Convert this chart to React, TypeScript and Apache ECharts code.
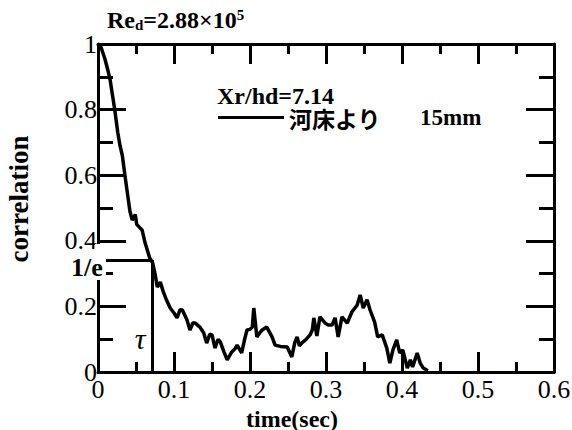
import React, { useEffect, useRef } from "react";
import * as echarts from "echarts";

const timeSec = [
  0, 0.004, 0.009, 0.013, 0.016, 0.018, 0.022, 0.026, 0.029, 0.032, 0.036, 0.039, 0.042, 0.045,
  0.049, 0.051, 0.055, 0.058, 0.062, 0.068, 0.072, 0.075, 0.078, 0.082, 0.086, 0.09, 0.095, 0.1,
  0.104, 0.108, 0.111, 0.117, 0.121, 0.125, 0.128, 0.134, 0.139, 0.143, 0.147, 0.15, 0.154, 0.158,
  0.161, 0.166, 0.17, 0.176, 0.18, 0.183, 0.189, 0.193, 0.196, 0.2, 0.203, 0.205, 0.209, 0.213,
  0.216, 0.222, 0.226, 0.229, 0.233, 0.24, 0.249, 0.255, 0.259, 0.262, 0.265, 0.268, 0.274, 0.279,
  0.282, 0.284, 0.288, 0.292, 0.299, 0.303, 0.308, 0.312, 0.316, 0.321, 0.328, 0.334, 0.341, 0.345,
  0.349, 0.354, 0.358, 0.364, 0.368, 0.374, 0.38, 0.384, 0.388, 0.393, 0.397, 0.401, 0.407, 0.411,
  0.414, 0.42, 0.424, 0.428, 0.434,
];
const correlation = [
  1.0, 0.99, 0.955, 0.92, 0.89, 0.86, 0.8, 0.73, 0.69, 0.66, 0.59, 0.54, 0.49, 0.463,
  0.48, 0.45, 0.44, 0.433, 0.393, 0.348, 0.332, 0.3, 0.259, 0.274, 0.244, 0.22, 0.195, 0.18,
  0.165, 0.19, 0.189, 0.159, 0.128, 0.15, 0.149, 0.137, 0.12, 0.088, 0.115, 0.113, 0.073, 0.1,
  0.091, 0.06, 0.037, 0.061, 0.07, 0.082, 0.058, 0.1, 0.128, 0.13, 0.137, 0.195, 0.107, 0.12,
  0.128, 0.137, 0.12, 0.107, 0.082, 0.078, 0.076, 0.046, 0.09, 0.107, 0.08, 0.088, 0.1, 0.113,
  0.128, 0.165, 0.11, 0.168, 0.149, 0.143, 0.143, 0.165, 0.107, 0.168, 0.149, 0.183, 0.204, 0.235,
  0.195, 0.22, 0.189, 0.152, 0.107, 0.113, 0.073, 0.027, 0.067, 0.098, 0.058, 0.067, 0.012, 0.037,
  0.015, 0.058, 0.027, 0.012, 0.004,
];
const xMajorTicks = [0, 0.1, 0.2, 0.3, 0.4, 0.5, 0.6];
const xMinorTicks = [0.05, 0.15, 0.25, 0.35, 0.45, 0.55];
const yMajorTicks = [0, 0.2, 0.4, 0.6, 0.8, 1];
const yMinorTicks = [0.1, 0.3, 0.5, 0.7, 0.9];
const xRange = { min: 0, max: 0.6, interval: 0.1 };
const yRange = { min: 0, max: 1, interval: 0.2 };
const invE = 0.341;
const tau = 0.0711;
const seriesName = "河床より";

const serif = "'Liberation Serif', 'Times New Roman', serif";

const GRID = { left: 98, top: 44, width: 456, height: 328 };

export default function App() {
  const ref = useRef<HTMLDivElement>(null);
  useEffect(() => {
    if (!ref.current) return;
    const chart = echarts.init(ref.current, undefined, { renderer: "svg" });
    const lineW = 3;
    const black = { color: "#000", width: lineW };
    const xAxisOf = (pos: "top" | "bottom") => ({
      type: "value" as const,
      position: pos,
      min: xRange.min,
      max: xRange.max,
      interval: xRange.interval,
      splitLine: { show: false },
      axisLabel: { show: false },
      axisLine: { show: true, onZero: false, lineStyle: black },
      axisTick: { show: true, inside: true, length: 20, lineStyle: black },
    });
    const yAxisOf = (pos: "left" | "right") => ({
      type: "value" as const,
      position: pos,
      min: yRange.min,
      max: yRange.max,
      interval: yRange.interval,
      splitLine: { show: false },
      axisLabel: { show: false },
      axisLine: { show: true, onZero: false, lineStyle: black },
      axisTick: { show: true, inside: true, length: 28, lineStyle: black },
    });
    // tick lengths in pixels, turned into data units through the grid size
    const ySpan = yRange.max - yRange.min;
    const xSpan = xRange.max - xRange.min;
    const xTickLen = (px: number) => (px / GRID.height) * ySpan;
    const yTickLen = (px: number) => (px / GRID.width) * xSpan;
    const tickSegs: any[] = [];
    const addX = (v: number, px: number) => {
      const d = xTickLen(px);
      tickSegs.push([{ coord: [v, yRange.min] }, { coord: [v, yRange.min + d] }]);
      tickSegs.push([{ coord: [v, yRange.max] }, { coord: [v, yRange.max - d] }]);
    };
    const addY = (v: number, px: number) => {
      const d = yTickLen(px);
      tickSegs.push([{ coord: [xRange.min, v] }, { coord: [xRange.min + d, v] }]);
      tickSegs.push([{ coord: [xRange.max, v] }, { coord: [xRange.max - d, v] }]);
    };
    xMajorTicks.forEach((v) => addX(v, 20));
    xMinorTicks.forEach((v) => addX(v, 10));
    yMajorTicks.forEach((v) => addY(v, 28));
    yMinorTicks.forEach((v) => addY(v, 15));

    chart.setOption({
      animation: false,
      backgroundColor: "#fff",
      grid: { ...GRID, containLabel: false, outerBoundsMode: "none" },
      legend: {
        show: true,
        left: 213,
        top: 101,
        itemWidth: 66,
        itemHeight: 3,
        icon: "rect",
        data: [seriesName],
        textStyle: { fontFamily: "'Noto Sans CJK JP', sans-serif", fontWeight: "bold", fontSize: 23, color: "#000" },
      },
      xAxis: [
        {
          ...xAxisOf("bottom"),
          name: "time(sec)",
          nameLocation: "middle",
          nameGap: 33,
          nameTextStyle: { fontFamily: serif, fontWeight: "bold", fontSize: 24, lineHeight: 22, color: "#000", padding: [0, 68, 0, 0] },
          axisLabel: { show: true, margin: 4, fontFamily: serif, fontSize: 26, color: "#000" },
        },
        xAxisOf("top"),
      ],
      yAxis: [
        {
          ...yAxisOf("left"),
          name: "correlation",
          nameLocation: "middle",
          nameGap: 66,
          nameTextStyle: { fontFamily: serif, fontWeight: "bold", fontSize: 27, color: "#000", padding: [0, 0, 0, 18] },
          axisLabel: { show: true, margin: 1, fontFamily: serif, fontSize: 26, color: "#000" },
        },
        yAxisOf("right"),
      ],
      series: [
        {
          name: seriesName,
          type: "line",
          xAxisIndex: 0,
          yAxisIndex: 0,
          clip: false,
          data: timeSec.map((t, i) => [t, correlation[i]]),
          symbol: "none",
          showSymbol: false,
          lineStyle: { color: "#000", width: 3.5 },
          itemStyle: { color: "#000" },
          markLine: {
            silent: true,
            symbol: "none",
            precision: 6,
            z: 10,
            label: { show: false },
            lineStyle: { color: "#000", width: 3, type: "solid" },
            emphasis: { disabled: true },
            data: [
              [{ coord: [0, invE] }, { coord: [tau, invE] }],
              [{ coord: [tau, invE] }, { coord: [tau, 0] }],
              ...tickSegs,
            ],
          },
        },
      ],
      graphic: [
        { type: "rect", z: 100, shape: { x: 95, y: 244, width: 11, height: 36 }, style: { fill: "#fff" } },
        {
          type: "text",
          z: 101,
          x: 71,
          y: 267,
          style: { text: "1/e", fontFamily: serif, fontWeight: "bold", fontSize: 26, fill: "#000", verticalAlign: "middle" },
        },
        {
          type: "text",
          z: 101,
          x: 140,
          y: 338,
          style: { text: "τ", fontFamily: serif, fontStyle: "italic", fontSize: 30, fill: "#000", align: "center", verticalAlign: "middle" },
        },
        {
          type: "text",
          z: 101,
          x: 217,
          y: 96,
          style: { text: "Xr/hd=7.14", fontFamily: serif, fontWeight: "bold", fontSize: 24, lineHeight: 20, fill: "#000", verticalAlign: "middle" },
        },
        {
          type: "text",
          z: 101,
          x: 420,
          y: 117,
          style: { text: "15mm", fontFamily: serif, fontWeight: "bold", fontSize: 23, fill: "#000", verticalAlign: "middle" },
        },
        {
          type: "text",
          z: 101,
          x: 107,
          y: 20,
          style: {
            text: "{a|Re}{b|d}{a|=2.88×10}{c|5}",
            verticalAlign: "middle",
            rich: {
              a: { fontFamily: serif, fontWeight: "bold", fontSize: 24, color: "#000" },
              b: { fontFamily: serif, fontWeight: "bold", fontSize: 15, color: "#000", verticalAlign: "bottom", padding: [10, 0, 0, 0] },
              c: { fontFamily: serif, fontWeight: "bold", fontSize: 15, color: "#000", verticalAlign: "top", padding: [0, 0, 8, 0] },
            },
          },
        },
      ],
    });
    return () => chart.dispose();
  }, []);
  return <div ref={ref} style={{ position: "fixed", left: 0, top: 0, width: 572, height: 430 }} />;
}
